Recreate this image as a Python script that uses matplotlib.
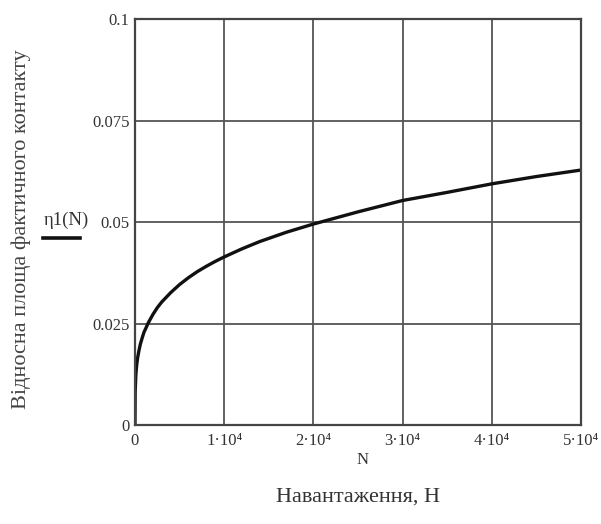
import matplotlib
import matplotlib.pyplot as plt

matplotlib.use('Agg')

# values
load_n = [0, 20, 100, 200, 300, 450, 600, 800, 1000, 1500, 2000, 2500, 3000,
          4000, 5000, 6000, 7000, 8000, 9000, 10000, 12000, 14000, 17000,
          20000, 25000, 30000, 35000, 40000, 45000, 50000]
eta1 = [0.0, 0.0082, 0.0125, 0.0150, 0.0166, 0.0184, 0.0199, 0.0214, 0.0228,
        0.0252, 0.0272, 0.0289, 0.0303, 0.0326, 0.0346, 0.0363, 0.0378,
        0.0391, 0.0403, 0.0414, 0.0434, 0.0452, 0.0475, 0.0495, 0.0525,
        0.0553, 0.0573, 0.0594, 0.0612, 0.0628]

x_ticks = [0, 10000, 20000, 30000, 40000, 50000]
x_labels = ['0', '1·10⁴', '2·10⁴', '3·10⁴', '4·10⁴', '5·10⁴']
y_ticks = [0, 0.025, 0.05, 0.075, 0.1]
y_labels = ['0', '0.025', '0.05', '0.075', '0.1']

plt.rcParams['font.family'] = ['Liberation Serif', 'DejaVu Serif']

fig = plt.figure(figsize=(6.01, 5.24), dpi=100)
ax = fig.add_axes([0.2246, 0.1889, 0.742, 0.7748])

ax.plot(load_n, eta1, color='#111111', lw=2.4, solid_joinstyle='round')

ax.set_xlim(0, 50000)
ax.set_ylim(0, 0.1)
ax.set_xticks(x_ticks)
ax.set_xticklabels(x_labels)
ax.set_yticks(y_ticks)
ax.set_yticklabels(y_labels)
ax.tick_params(length=0, labelsize=12, colors='#333333')
ax.tick_params(axis='x', pad=6)
ax.tick_params(axis='y', pad=4)
ax.grid(True, color='#555555', lw=1.3)
for s in ax.spines.values():
    s.set_color('#444444')
    s.set_linewidth(1.6)

fig.text(0.604, 0.122, 'N', ha='center', va='center', fontsize=12,
         color='#333333')
fig.text(0.596, 0.051, 'Навантаження, Н', ha='center', va='center',
         fontsize=16, color='#333333')
fig.text(0.035, 0.563, 'Відносна площа фактичного контакту', rotation=90,
         ha='center', va='center', fontsize=16, color='#444444')
fig.text(0.073, 0.58, 'η1(N)', ha='left', va='center', fontsize=13.5,
         color='#333333')
fig.add_artist(matplotlib.lines.Line2D([0.072, 0.133], [0.545, 0.545],
                                       color='#111111', lw=2.6))

fig.savefig('out.png', dpi=100)
plt.close(fig)
